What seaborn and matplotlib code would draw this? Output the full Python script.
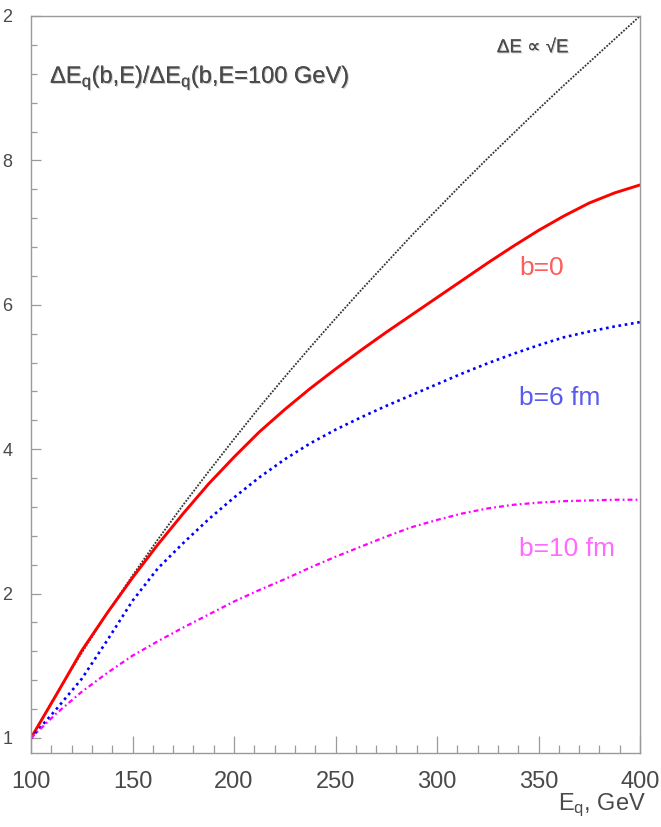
import matplotlib
matplotlib.use("Agg")
import matplotlib.pyplot as plt
from matplotlib import font_manager
from matplotlib.ticker import MultipleLocator, FixedLocator
import seaborn as sns
import pandas as pd
import matplotlib.patheffects as pe

# ---------------- data ----------------
energy = [100, 112.5, 125, 137.5, 150, 162.5, 175, 187.5, 200, 212.5, 225, 237.5, 250,
          262.5, 275, 287.5, 300, 312.5, 325, 337.5, 350, 362.5, 375, 387.5, 400]
sqrt_ref = [1.000, 1.061, 1.118, 1.173, 1.225, 1.275, 1.323, 1.369, 1.414, 1.458, 1.500,
            1.541, 1.581, 1.620, 1.658, 1.696, 1.732, 1.768, 1.803, 1.837, 1.871, 1.904,
            1.936, 1.968, 2.000]
b0 = [1.000, 1.060, 1.121, 1.173, 1.222, 1.268, 1.311, 1.352, 1.389, 1.424, 1.455,
      1.484, 1.511, 1.537, 1.562, 1.586, 1.610, 1.634, 1.658, 1.681, 1.703, 1.723,
      1.741, 1.755, 1.766]
b6 = [1.000, 1.040, 1.082, 1.135, 1.190, 1.235, 1.270, 1.303, 1.333, 1.361, 1.386,
      1.408, 1.427, 1.444, 1.460, 1.475, 1.490, 1.505, 1.519, 1.532, 1.544, 1.555,
      1.563, 1.570, 1.576]
b10 = [1.000, 1.034, 1.064, 1.090, 1.114, 1.134, 1.153, 1.171, 1.189, 1.205, 1.220,
       1.236, 1.251, 1.265, 1.279, 1.292, 1.302, 1.311, 1.318, 1.323, 1.326, 1.328,
       1.329, 1.330, 1.330]

x_ticks = [100, 150, 200, 250, 300, 350, 400]
y_ticks = [1.0, 1.2, 1.4, 1.6, 1.8, 2.0]
y_tick_labels = ["1", "2", "4", "6", "8", "2"]   # as visible in the (left-cropped) original

sns.set_style("white")
names = {f.name for f in font_manager.fontManager.ttflist}
main_font = "Liberation Sans Narrow" if "Liberation Sans Narrow" in names else "Liberation Sans"
plt.rcParams["font.family"] = [main_font, "DejaVu Sans"]
plt.rcParams["mathtext.default"] = "regular"

grey_txt = "#4a4a4a"
axis_col = "#9a9a9a"

fig = plt.figure(figsize=(6.61, 8.27), dpi=100)
ax = fig.add_axes([31 / 661, 1 - 753 / 827, 609 / 661, 737 / 827])

df = pd.DataFrame({"E": energy, "sqrt": sqrt_ref, "b0": b0, "b6": b6, "b10": b10})

sns.lineplot(data=df, x="E", y="sqrt", ax=ax, color="#333333", lw=1.3,
             linestyle=(0, (1, 0.8)))
sns.lineplot(data=df, x="E", y="b0", ax=ax, color="#ff0000", lw=2.1)
sns.lineplot(data=df, x="E", y="b6", ax=ax, color="#0000ff", lw=1.9,
             linestyle=(0, (1, 1.4)))
sns.lineplot(data=df, x="E", y="b10", ax=ax, color="#ff00ff", lw=1.6,
             linestyle=(0, (2.2, 1.4, 0.8, 1.4)))

ax.set_xlim(100, 400)
ax.set_ylim(2 - 737 / 722, 2.0)
ax.set_xlabel("")
ax.set_ylabel("")

ax.xaxis.set_major_locator(FixedLocator(x_ticks))
ax.xaxis.set_minor_locator(MultipleLocator(10))
ax.yaxis.set_major_locator(FixedLocator(y_ticks))
ax.yaxis.set_minor_locator(MultipleLocator(0.04))
ax.set_xticklabels([str(v) for v in x_ticks])
ax.set_yticklabels(y_tick_labels)

ax.tick_params(axis="x", which="major", direction="in", length=12, width=0.9,
               color=axis_col, labelsize=17, labelcolor=grey_txt, pad=13,
               bottom=True, top=False)
ax.tick_params(axis="x", which="minor", direction="in", length=6, width=0.9,
               color=axis_col, bottom=True, top=False)
ax.tick_params(axis="y", which="major", direction="in", length=7, width=0.9,
               color=axis_col, labelsize=13, labelcolor=grey_txt, pad=13.5,
               left=True, right=False)
ax.tick_params(axis="y", which="minor", direction="in", length=4, width=0.9,
               color=axis_col, left=True, right=False)

for s in ax.spines.values():
    s.set_visible(True)
    s.set_color(axis_col)
    s.set_linewidth(1.0)

shadow = [pe.withSimplePatchShadow(offset=(0.8, -0.8), shadow_rgbFace="#bbbbbb", alpha=0.8), pe.Normal()]

ax.text(109.4, 1.914, "ΔE$_q$(b,E)/ΔE$_q$(b,E=100 GeV)", fontsize=17,
        color=grey_txt, ha="left", va="center", path_effects=shadow)
ax.text(329.5, 1.956, "ΔE ∝ √E", fontsize=13.5, color=grey_txt,
        ha="left", va="center", path_effects=shadow)
ax.text(340.4, 1.651, "b=0", fontsize=19, color="#ff5c5c", ha="left", va="center")
ax.text(340.4, 1.471, "b=6 fm", fontsize=19, color="#5a5aee", ha="left", va="center")
ax.text(340.4, 1.262, "b=10 fm", fontsize=19, color="#ff6aff", ha="left", va="center")

fig.text(646 / 661, 1 - 810 / 827, "E$_q$, GeV", fontsize=17, color=grey_txt,
         ha="right", va="baseline")

fig.savefig("out.png", dpi=100)
